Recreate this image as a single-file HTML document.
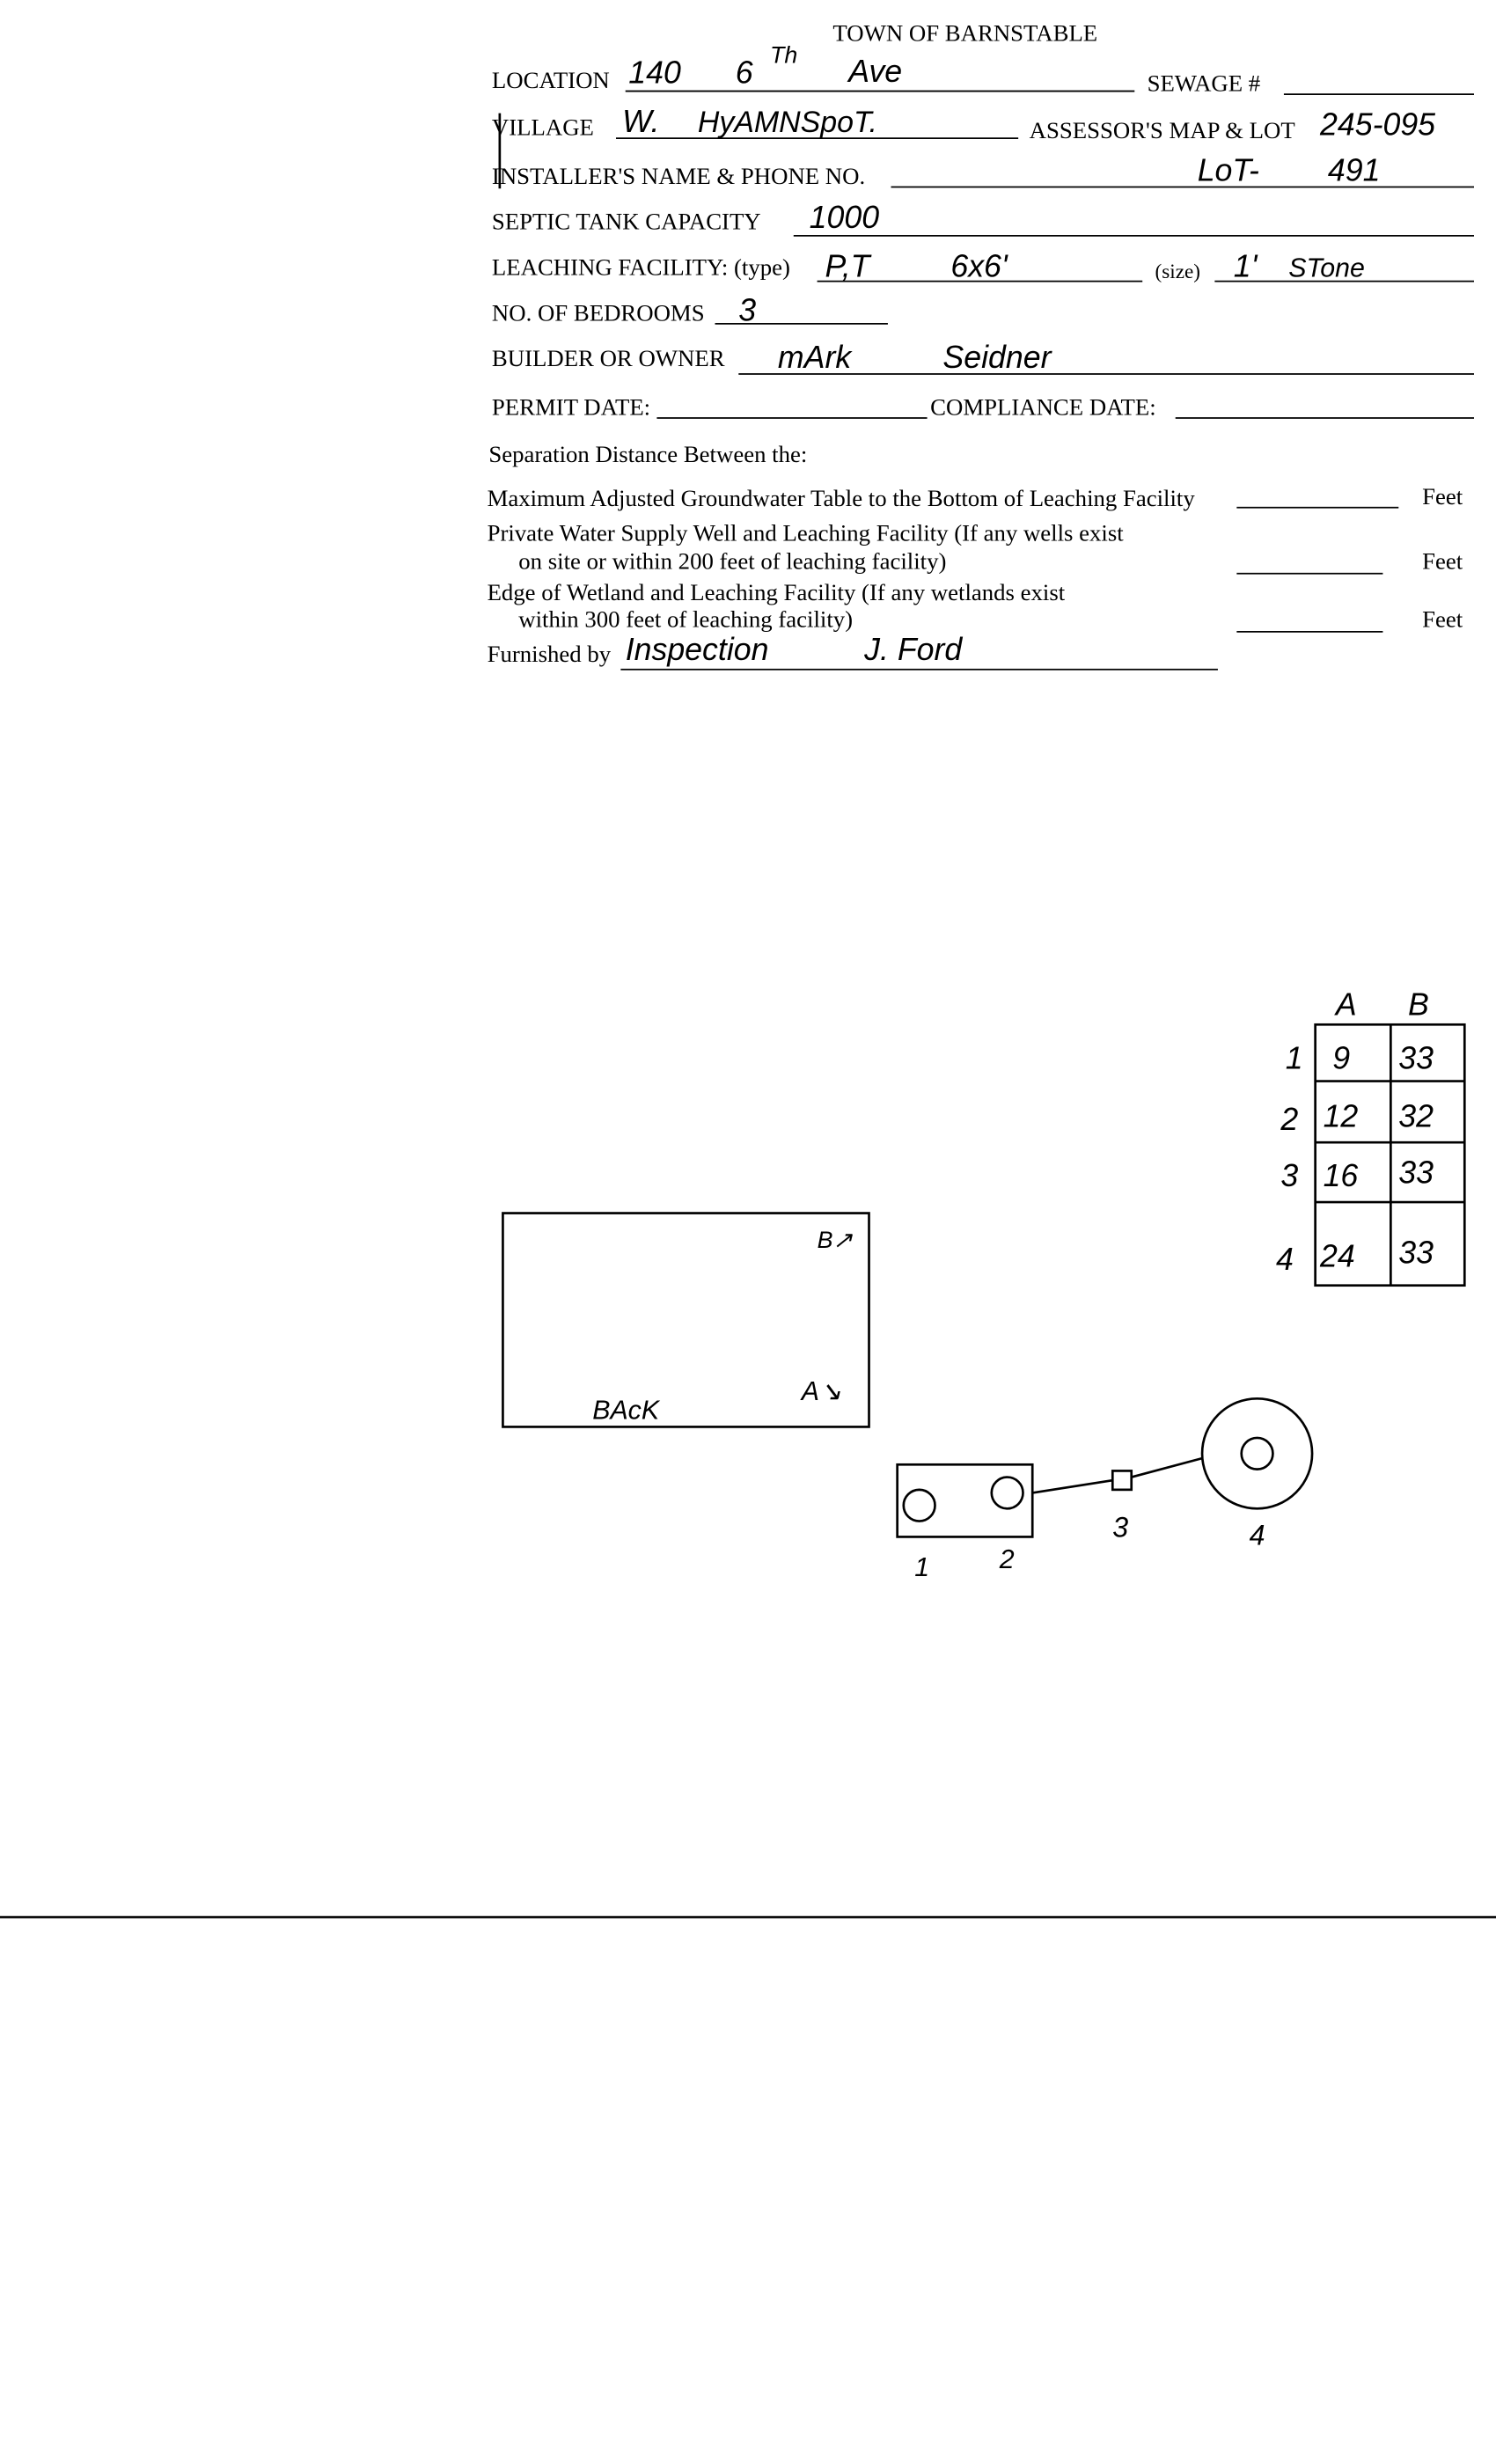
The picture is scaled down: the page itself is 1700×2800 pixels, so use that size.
<!DOCTYPE html>
<html><head><meta charset="utf-8"><style>
html,body{margin:0;padding:0;background:#fff;}
svg{display:block;}
.p{font-family:"Liberation Serif",serif;font-size:15px;fill:#000;}
.h{font-family:"Liberation Sans",sans-serif;font-style:italic;font-size:20px;fill:#000;}
line,rect,circle,path{stroke:#000;fill:none;}
</style></head><body>
<svg width="1700" height="2800" viewBox="0 0 952 1568" preserveAspectRatio="none" xmlns="http://www.w3.org/2000/svg">
<text class="p" x="530" y="26" style="font-size:15px">TOWN OF BARNSTABLE</text>

<text class="p" x="313" y="56">LOCATION</text>
<line x1="398" y1="58" x2="722" y2="58" stroke-width="1"/>
<text class="h" x="400" y="53">140</text><text class="h" x="468" y="53">6</text><text class="h" x="490" y="40" style="font-size:15px">Th</text><text class="h" x="540" y="52">Ave</text>
<text class="p" x="730" y="58">SEWAGE #</text>
<line x1="817" y1="60" x2="938" y2="60" stroke-width="1"/>

<text class="p" x="313" y="86">VILLAGE</text>
<line x1="318" y1="72" x2="318" y2="120" stroke-width="1.5"/>
<line x1="392" y1="88" x2="648" y2="88" stroke-width="1"/>
<text class="h" x="396" y="84">W.</text><text class="h" x="444" y="84" style="font-size:19px">HyAMNSpoT.</text>
<text class="p" x="655" y="88">ASSESSOR'S MAP &amp; LOT</text>
<text class="h" x="840" y="86">245-095</text>

<text class="p" x="313" y="117">INSTALLER'S NAME &amp; PHONE NO.</text>
<line x1="567" y1="119" x2="938" y2="119" stroke-width="1"/>
<text class="h" x="762" y="115">LoT-</text><text class="h" x="845" y="115">491</text>

<text class="p" x="313" y="146">SEPTIC TANK CAPACITY</text>
<line x1="505" y1="150" x2="938" y2="150" stroke-width="1"/>
<text class="h" x="515" y="145">1000</text>

<text class="p" x="313" y="175">LEACHING FACILITY: (type)</text>
<line x1="520" y1="179" x2="727" y2="179" stroke-width="1"/>
<text class="h" x="525" y="176">P,T</text><text class="h" x="605" y="176">6x6'</text>
<text class="p" x="735" y="177" style="font-size:13px">(size)</text>
<line x1="773" y1="179" x2="938" y2="179" stroke-width="1"/>
<text class="h" x="785" y="176">1'</text><text class="h" x="820" y="176" style="font-size:17px">STone</text>

<text class="p" x="313" y="204">NO. OF BEDROOMS</text>
<line x1="455" y1="206" x2="565" y2="206" stroke-width="1"/>
<text class="h" x="470" y="204">3</text>

<text class="p" x="313" y="233">BUILDER OR OWNER</text>
<line x1="470" y1="238" x2="938" y2="238" stroke-width="1"/>
<text class="h" x="495" y="234">mArk</text><text class="h" x="600" y="234">Seidner</text>

<text class="p" x="313" y="264">PERMIT DATE:</text>
<line x1="418" y1="266" x2="590" y2="266" stroke-width="1"/>
<text class="p" x="592" y="264">COMPLIANCE  DATE:</text>
<line x1="748" y1="266" x2="938" y2="266" stroke-width="1"/>

<text class="p" x="311" y="294">Separation Distance Between the:</text>
<text class="p" x="310" y="322">Maximum Adjusted Groundwater Table to the Bottom of Leaching Facility</text>
<line x1="787" y1="323" x2="890" y2="323" stroke-width="1"/>
<text class="p" x="905" y="321">Feet</text>
<text class="p" x="310" y="344">Private Water Supply Well and Leaching Facility  (If any wells exist</text>
<text class="p" x="330" y="362">on site or within 200 feet of leaching facility)</text>
<line x1="787" y1="365" x2="880" y2="365" stroke-width="1"/>
<text class="p" x="905" y="362">Feet</text>
<text class="p" x="310" y="382">Edge of Wetland and Leaching Facility (If any wetlands exist</text>
<text class="p" x="330" y="399">within 300 feet of leaching facility)</text>
<line x1="787" y1="402" x2="880" y2="402" stroke-width="1"/>
<text class="p" x="905" y="399">Feet</text>
<text class="p" x="310" y="421">Furnished by</text>
<line x1="395" y1="426" x2="775" y2="426" stroke-width="1"/>
<text class="h" x="398" y="420">Inspection</text><text class="h" x="550" y="420">J. Ford</text>

<text class="h" x="850" y="646">A</text><text class="h" x="896" y="646">B</text>
<rect x="837" y="652" width="95" height="166" stroke-width="1.5"/>
<line x1="885" y1="652" x2="885" y2="818" stroke-width="1.5"/>
<line x1="837" y1="688" x2="932" y2="688" stroke-width="1.5"/>
<line x1="837" y1="727" x2="932" y2="727" stroke-width="1.5"/>
<line x1="837" y1="765" x2="932" y2="765" stroke-width="1.5"/>
<text class="h" x="818" y="680">1</text><text class="h" x="848" y="680">9</text><text class="h" x="890" y="680">33</text>
<text class="h" x="815" y="719">2</text><text class="h" x="842" y="717">12</text><text class="h" x="890" y="717">32</text>
<text class="h" x="815" y="755">3</text><text class="h" x="842" y="755">16</text><text class="h" x="890" y="753">33</text>
<text class="h" x="812" y="808">4</text><text class="h" x="840" y="806">24</text><text class="h" x="890" y="804">33</text>

<rect x="320" y="772" width="233" height="136" stroke-width="1.5"/>
<text class="h" x="520" y="794" style="font-size:15px">B↗</text>
<text class="h" x="510" y="891" style="font-size:17px">A↘</text>
<text class="h" x="377" y="903" style="font-size:17px">BAcK</text>

<rect x="571" y="932" width="86" height="46" stroke-width="1.5"/>
<circle cx="585" cy="958" r="10" stroke-width="1.5"/>
<circle cx="641" cy="950" r="10" stroke-width="1.5"/>
<line x1="657" y1="950" x2="708" y2="942" stroke-width="1.5"/>
<rect x="708" y="936" width="12" height="12" stroke-width="1.5"/>
<line x1="720" y1="940" x2="765" y2="928" stroke-width="1.5"/>
<circle cx="800" cy="925" r="35" stroke-width="1.5"/>
<circle cx="800" cy="925" r="10" stroke-width="1.5"/>
<text class="h" x="582" y="1003" style="font-size:17px">1</text>
<text class="h" x="636" y="998" style="font-size:17px">2</text>
<text class="h" x="708" y="978" style="font-size:18px">3</text>
<text class="h" x="795" y="983" style="font-size:18px">4</text>

<line x1="0" y1="1220" x2="952" y2="1220" stroke-width="1.5"/>
</svg>
</body></html>
